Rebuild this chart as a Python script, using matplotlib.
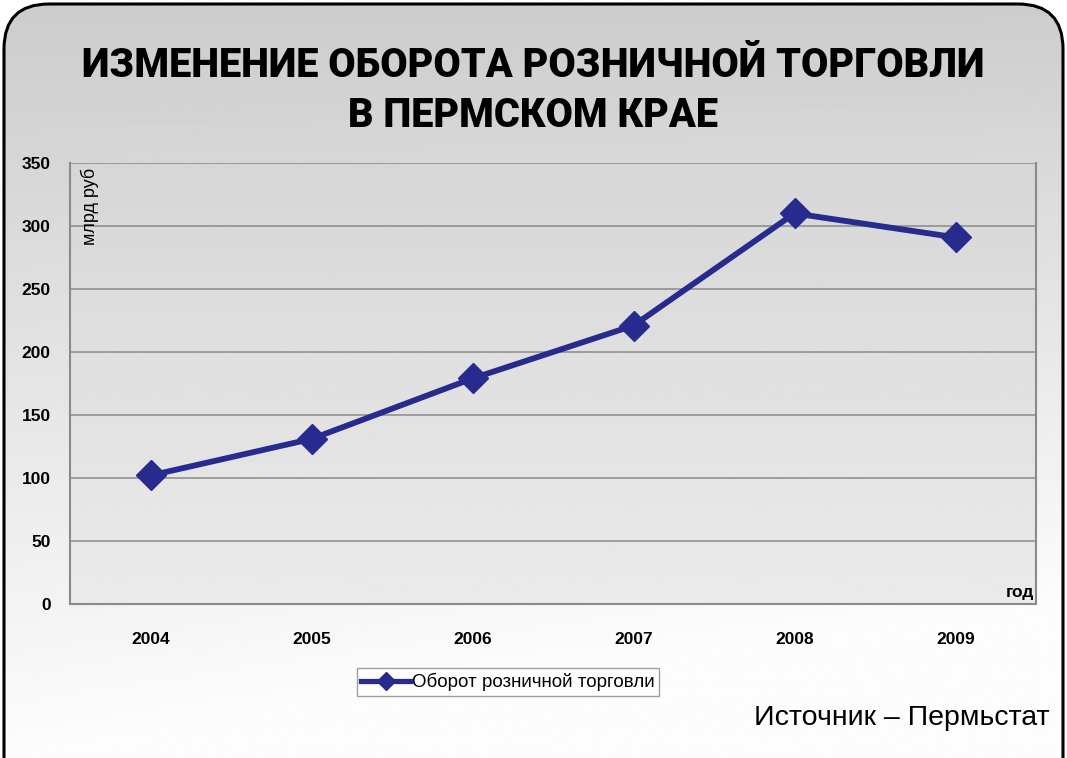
import numpy as np
import matplotlib
matplotlib.use("Agg")
import matplotlib.pyplot as plt
from matplotlib.patches import FancyBboxPatch
from matplotlib.lines import Line2D

years = ["2004", "2005", "2006", "2007", "2008", "2009"]
turnover = [102, 131, 179, 221, 310, 291]
yticks = [0, 50, 100, 150, 200, 250, 300, 350]
title = "ИЗМЕНЕНИЕ ОБОРОТА РОЗНИЧНОЙ ТОРГОВЛИ\nВ ПЕРМСКОМ КРАЕ"
series_name = "Оборот розничной торговли"
y_label = "млрд руб"
x_label = "год"
source = "Источник – Пермьстат"

W, H = 1067, 758
fig = plt.figure(figsize=(W / 100, H / 100), dpi=100)
fig.patch.set_facecolor("white")

# background with rounded frame and gradient
bg = fig.add_axes([0, 0, 1, 1])
bg.set_xlim(0, W)
bg.set_ylim(H, 0)
bg.axis("off")
yy = np.linspace(0, 1, 300)[:, None]
xx = np.linspace(0, 1, 300)[None, :]
grad = 0.80 + 0.19 * np.clip(yy * 1.0 + 0.25 * xx * yy, 0, 1)
im = bg.imshow(grad, cmap="gray", vmin=0, vmax=1, extent=[0, W, H, 0], aspect="auto", zorder=0)
frame = FancyBboxPatch((4, 4), W - 8, H - 4 + 60, boxstyle="round,pad=0,rounding_size=45",
                       facecolor="none", edgecolor="black", linewidth=2.2, zorder=2)
bg.add_patch(frame)
im.set_clip_path(frame)

fig.text(0.5, 1 - 46 / H, title, ha="center", va="top", fontsize=28.5, fontweight=900,
         family=["Roboto", "DejaVu Sans"], linespacing=1.36, color="black")

ax = fig.add_axes([70 / W, 1 - 604 / H, (1036 - 70) / W, (604 - 163) / H])
ax.set_facecolor("none")
# plot area gradient
pg = np.linspace(0.84, 0.92, 200)[:, None] * np.ones((1, 2))
ax.imshow(pg, cmap="gray", vmin=0, vmax=1, extent=[-0.5, 5.5, 0, 350], aspect="auto", zorder=0)
x = np.arange(len(years))
ax.plot(x, turnover, color="#272b8e", linewidth=4.2, marker="D", markersize=15,
        markerfacecolor="#272b8e", markeredgecolor="#272b8e", zorder=3, solid_joinstyle="round")
ax.set_xlim(-0.5, len(years) - 0.5)
ax.set_ylim(0, 350)
ax.set_yticks(yticks)
ax.set_yticklabels([str(v) for v in yticks], fontsize=12.5, fontweight="bold", family="Liberation Sans")
ax.set_xticks(x)
ax.set_xticklabels(years, fontsize=12.5, fontweight="bold", family="Liberation Sans")
ax.tick_params(axis="y", length=0, pad=14)
ax.tick_params(axis="x", length=0, pad=20)
ax.grid(axis="y", color="#8a8a8a", linewidth=1.1, zorder=1)
ax.set_axisbelow(True)
for s in ["left", "bottom", "right"]:
    ax.spines[s].set_color("#8a8a8a")
    ax.spines[s].set_linewidth(1.5)
ax.spines["top"].set_visible(False)

ax.text(0.011, 0.99, y_label, transform=ax.transAxes, rotation=90, ha="left", va="top",
        fontsize=13, family="Liberation Sans")
ax.text(0.998, 0.008, x_label, transform=ax.transAxes, ha="right", va="bottom",
        fontsize=12.5, fontweight="bold", family="Liberation Sans")

handle = Line2D([], [], color="#272b8e", linewidth=3.8, marker="D", markersize=9)
leg = fig.legend([handle], [series_name], loc="center", bbox_to_anchor=(508 / W, 1 - 682 / H),
                 frameon=True, fancybox=False, edgecolor="#888888", facecolor="white",
                 prop={"family": "Liberation Sans", "size": 13.5}, handlelength=2.6,
                 handletextpad=0.1, borderpad=0.25, borderaxespad=0)
leg.get_frame().set_linewidth(1.0)

fig.text(1050 / W, 1 - 718 / H, source, ha="right", va="center", fontsize=20.5,
         family="Liberation Sans", color="black")

fig.savefig("out.png", dpi=100)
